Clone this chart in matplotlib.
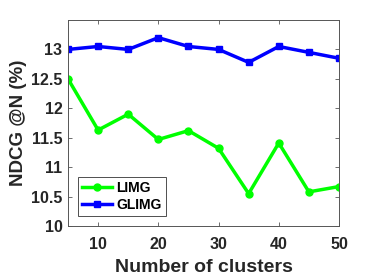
import matplotlib
matplotlib.use("Agg")
import matplotlib.pyplot as plt

# data
clusters = [5, 10, 15, 20, 25, 30, 35, 40, 45, 50]
limg = [12.5, 11.63, 11.9, 11.47, 11.62, 11.32, 10.55, 11.41, 10.58, 10.67]
glimg = [13.0, 13.05, 13.0, 13.2, 13.05, 13.0, 12.78, 13.05, 12.95, 12.85]
yticks = [10, 10.5, 11, 11.5, 12, 12.5, 13]
xticks = [10, 20, 30, 40, 50]

plt.rcParams['font.family'] = ['Liberation Sans', 'DejaVu Sans']
plt.rcParams['font.weight'] = 'bold'
TXT = '#262626'

fig = plt.figure(figsize=(3.74, 2.8), dpi=100)
ax = fig.add_axes([68 / 374, 1 - 226 / 280, (339 - 68) / 374, (226 - 20) / 280])

ax.plot(clusters, limg, color='#00ff00', lw=2.5, marker='o', ms=5, label='LIMG')
ax.plot(clusters, glimg, color='#0000ff', lw=2.5, marker='s', ms=5, label='GLIMG')

ax.set_xlim(5, 50)
ax.set_ylim(10, 13.5)
ax.set_xticks(xticks)
ax.set_yticks(yticks)
ax.set_yticklabels([f'{v:g}' for v in yticks])
ax.tick_params(direction='in', length=3, width=0.6, colors='#555555',
               labelcolor=TXT, labelsize=11.5, top=True, right=True, pad=4)
ax.tick_params(axis='x', pad=8)
for lab in ax.get_xticklabels() + ax.get_yticklabels():
    lab.set_fontweight('bold')
for s in ax.spines.values():
    s.set_color('#555555')
    s.set_linewidth(0.7)

ax.set_xlabel('Number of clusters', fontsize=14, fontweight='bold', color=TXT, labelpad=5)
ax.set_ylabel('NDCG @N (%)', fontsize=13.5, fontweight='bold', color=TXT, labelpad=3)

leg = ax.legend(loc='lower left', fontsize=10, frameon=True, fancybox=False,
                edgecolor='#222222', handlelength=2.2, borderpad=0.3,
                labelspacing=0.2, handletextpad=0.3, borderaxespad=0.7)
leg.get_frame().set_linewidth(0.7)
for t in leg.get_texts():
    t.set_fontweight('bold')

fig.savefig('out.png', dpi=100)
